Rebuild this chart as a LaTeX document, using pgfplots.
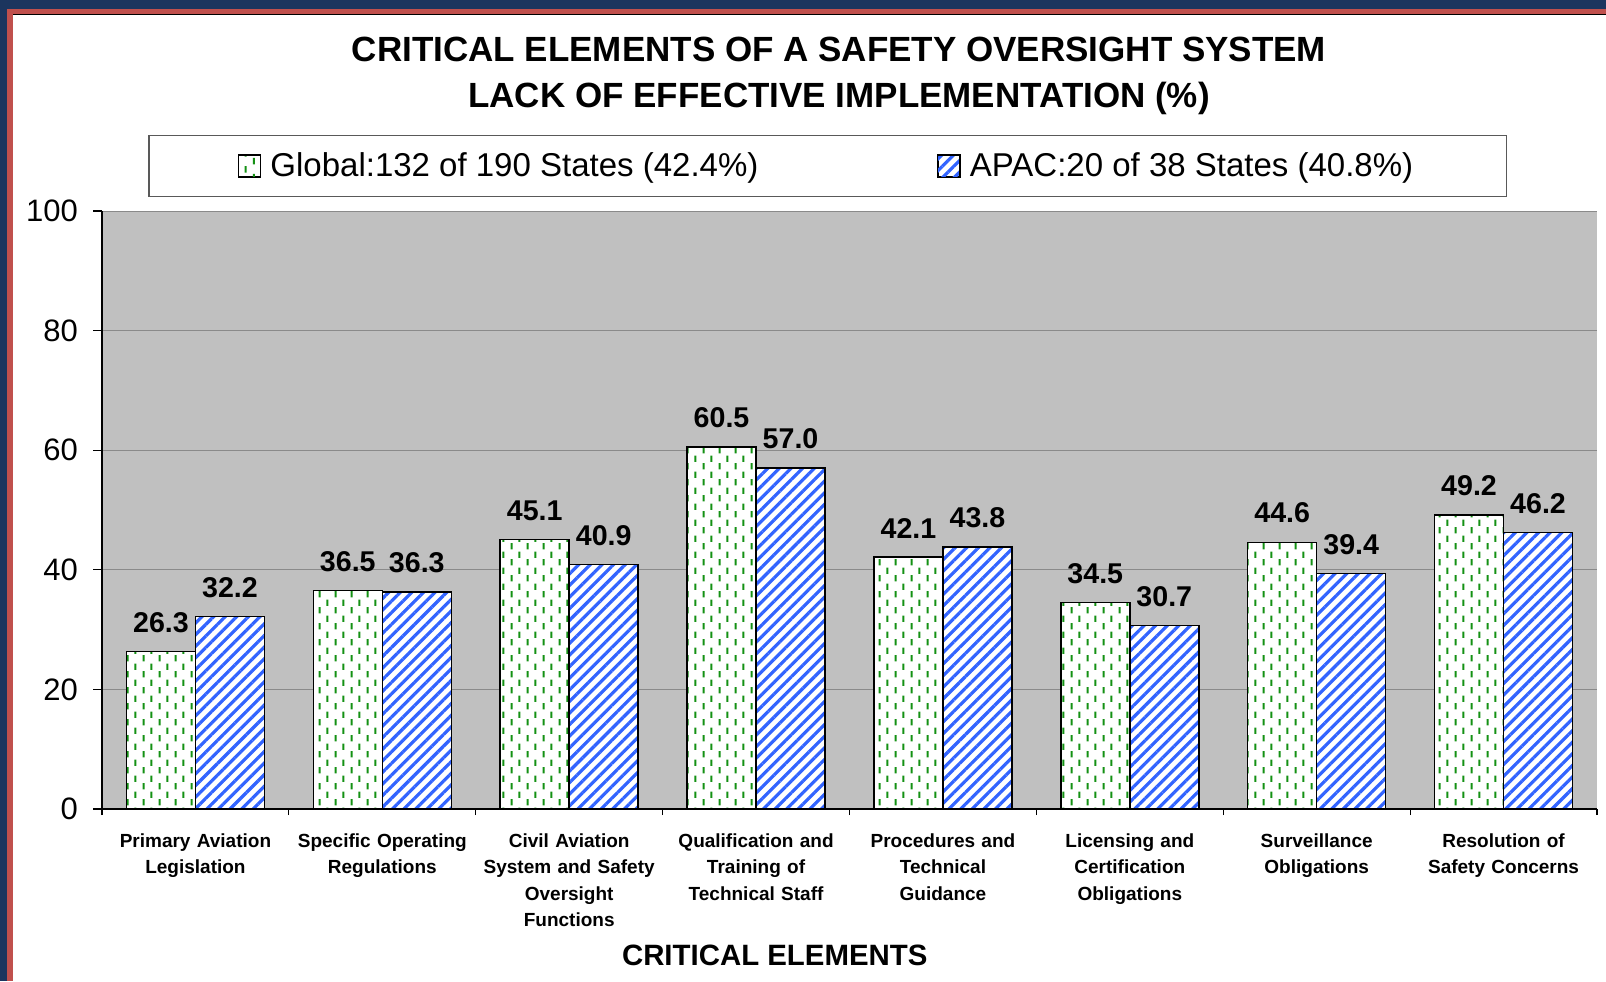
\documentclass[border=0pt]{standalone}
\usepackage{fontspec}
\setmainfont{Liberation Sans}
\usepackage{pgfplots}
\usepackage{pgfplotstable}
\pgfplotsset{compat=1.18}
\usetikzlibrary{patterns,patterns.meta}
\definecolor{navyframe}{RGB}{28,53,94}
\definecolor{framered}{RGB}{192,80,77}
\definecolor{plotgray}{RGB}{192,192,192}
\definecolor{gridgray}{RGB}{138,138,138}
\definecolor{barblue}{RGB}{50,100,255}
\definecolor{bargreen}{RGB}{20,145,20}
\pgfdeclarepatternformonly{gdash}{\pgfpointorigin}{\pgfqpoint{7.8pt}{8pt}}{\pgfqpoint{7.8pt}{8pt}}{%
  \pgfpathrectangle{\pgfqpoint{1.4pt}{0.35pt}}{\pgfqpoint{1pt}{3.3pt}}%
  \pgfpathrectangle{\pgfqpoint{5.3pt}{4.35pt}}{\pgfqpoint{1pt}{3.3pt}}%
  \pgfusepath{fill}}
\pgfplotstableread{
x g a
0 26.3 32.2
1 36.5 36.3
2 45.1 40.9
3 60.5 57.0
4 42.1 43.8
5 34.5 30.7
6 44.6 39.4
7 49.2 46.2
}\datatable
\begin{document}
\begin{tikzpicture}
\path[use as bounding box] (0pt,0pt) rectangle (803pt,490.5pt);
\fill[navyframe] (0pt,0pt) rectangle (803pt,490.5pt);
\fill[framered] (3.5pt,0pt) rectangle (803pt,486pt);
\fill[white] (6.5pt,0pt) rectangle (803pt,483pt);
\draw[black,line width=0.5pt] (6.5pt,483pt) -- (803pt,483pt);
\begin{axis}[
  at={(51pt,86pt)}, anchor=south west,
  scale only axis, width=747.5pt, height=299pt,
  xmin=-0.5, xmax=7.5, ymin=0, ymax=100,
  ybar=0pt, bar width=34.5pt,
  axis lines*=left,
  axis line style={black, line width=0.6pt},
  axis background/.style={fill=plotgray},
  tick align=outside,
  major tick length=4.5pt,
  minor tick length=3pt,
  ytick={0,20,...,100},
  ymajorgrids, grid style={gridgray, line width=0.5pt},
  xtick={0,...,7},
  minor xtick={-0.5,0.5,...,7.5},
  major x tick style={draw=none},
  tick style={black, line width=0.6pt},
  xticklabels={{Primary Aviation\\Legislation},{Specific Operating\\Regulations},{Civil Aviation\\System and Safety\\Oversight\\Functions},{Qualification and\\Training of\\Technical Staff},{Procedures and\\Technical\\Guidance},{Licensing and\\Certification\\Obligations},{Surveillance\\Obligations},{Resolution of\\Safety Concerns}},
  xticklabel style={font=\bfseries\fontsize{9.5}{13.25}\selectfont, align=center, text width=100pt, anchor=base, yshift=-14.6pt},
  yticklabel style={font=\fontsize{15.5}{15.5}\selectfont, xshift=-4pt},
  /pgf/number format/assume math mode=true,
  nodes near coords={\pgfmathprintnumber[fixed,fixed zerofill,precision=1,assume math mode=true]{\pgfplotspointmeta}},
  every node near coord/.append style={font=\bfseries\fontsize{14.3}{14.3}\selectfont, yshift=5.8pt, black},
  title={CRITICAL ELEMENTS OF A SAFETY OVERSIGHT SYSTEM\\LACK OF EFFECTIVE IMPLEMENTATION (\%)},
  title style={font=\bfseries\fontsize{17.5}{23}\selectfont, align=center, at={(axis description cs:0.493,1)}, anchor=south, yshift=38.8pt},
  xlabel={CRITICAL ELEMENTS},
  xlabel style={font=\bfseries\fontsize{14.7}{14.7}\selectfont, at={(axis description cs:0.45,0)}, anchor=base, yshift=-78.1pt},
  legend columns=2,
  legend image code/.code={\draw[#1, line width=0.5pt] (0pt,-5.5pt) rectangle (11pt,5.5pt); \path (13.6pt,0pt);},
  legend style={at={(axis description cs:0.0308,1.1271)}, anchor=north west, draw=black!65, line width=0.75pt, fill=white,
    font=\fontsize{16.5}{19}\selectfont, inner xsep=44.6pt, inner ysep=6.5pt,
    /tikz/every even column/.append style={column sep=87.5pt}},
  legend cell align=left,
]
\addplot[draw=black, line width=0.75pt, preaction={fill=white}, pattern=gdash, pattern color=bargreen] table[x=x,y=g]{\datatable};
\addplot[draw=black, line width=0.75pt, preaction={fill=white}, pattern={Lines[angle=45,distance=4.1pt,line width=1.6pt]}, pattern color=barblue] table[x=x,y=a]{\datatable};
\legend{Global:132 of 190 States (42.4\%),APAC:20 of 38 States (40.8\%)}
\end{axis}
\end{tikzpicture}
\end{document}
